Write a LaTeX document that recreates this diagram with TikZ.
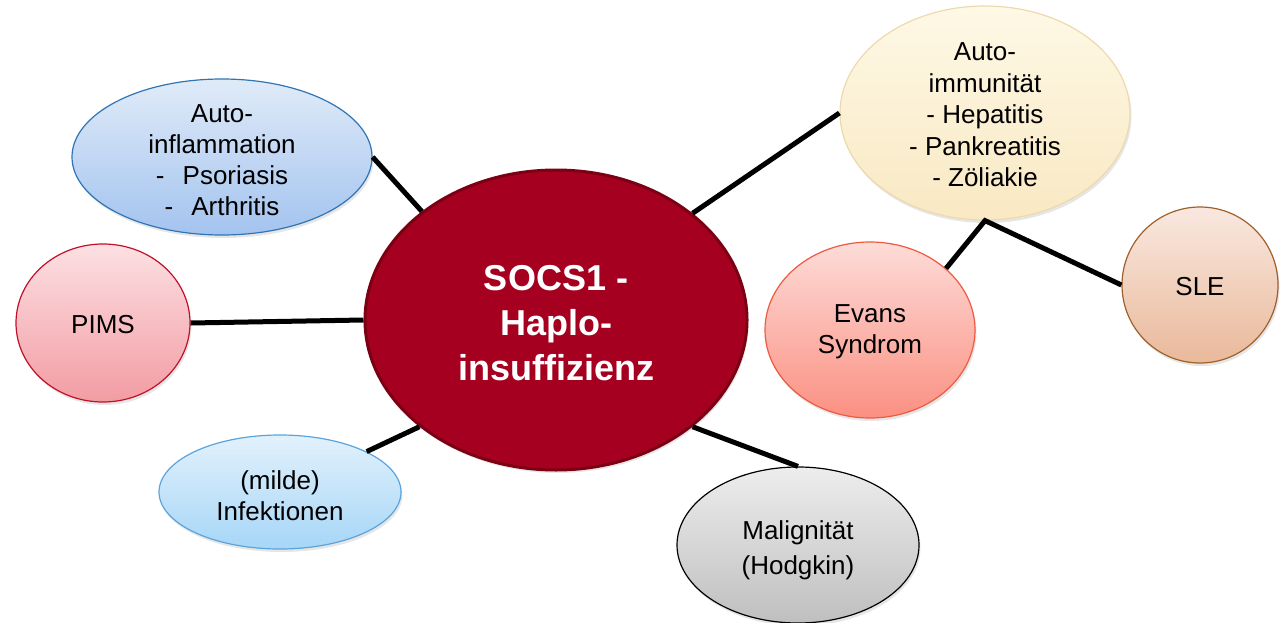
\documentclass[tikz,border=0pt]{standalone}
\usepackage{fontspec}
\setmainfont{Liberation Sans}
\usetikzlibrary{shapes.geometric,shadows}
\definecolor{cenfill}{HTML}{A5001F}
\definecolor{cenborder}{HTML}{7B0014}
\definecolor{inflborder}{HTML}{2F75B5}
\definecolor{infltop}{HTML}{E0EBF8}
\definecolor{inflbot}{HTML}{A3C3EF}
\definecolor{pimsborder}{HTML}{C0102A}
\definecolor{pimstop}{HTML}{FCE0E3}
\definecolor{pimsbot}{HTML}{F29CA3}
\definecolor{infborder}{HTML}{5BA3DC}
\definecolor{inftop}{HTML}{E2F1FC}
\definecolor{infbot}{HTML}{A6D6F7}
\definecolor{maltop}{HTML}{EDEDED}
\definecolor{malbot}{HTML}{BFBFBF}
\definecolor{evborder}{HTML}{EE5A40}
\definecolor{evtop}{HTML}{FDDCD8}
\definecolor{evbot}{HTML}{FB9082}
\definecolor{sleborder}{HTML}{A0602A}
\definecolor{sletop}{HTML}{F9E8E0}
\definecolor{slebot}{HTML}{E9B99A}
\definecolor{imborder}{HTML}{EED9AE}
\definecolor{imtop}{HTML}{FEF8E6}
\definecolor{imbot}{HTML}{F9E9C3}
\tikzset{
  blob/.style={ellipse, inner sep=0pt, line width=1.2pt,
    drop shadow={opacity=0.2, shadow xshift=1.5pt, shadow yshift=-3pt}},
  lbl/.style={align=center, font=\fontsize{26}{31}\selectfont, text=black},
  conn/.style={line width=5pt, black},
}
\begin{document}
\begin{tikzpicture}[x=1pt,y=-1pt]
\useasboundingbox (0,0) rectangle (1281,623);
% central
\node[blob, draw=cenborder, line width=3pt, fill=cenfill, minimum width=382pt, minimum height=300pt] (cen) at (556,320) {};
\node[align=center, text=white, font=\fontsize{36}{45}\selectfont\bfseries] (cent) at (556,323) {SOCS1 -\\Haplo-\\insuffizienz};
% auto-inflammation
\node[blob, draw=inflborder, top color=infltop, bottom color=inflbot, minimum width=300pt, minimum height=156pt] (infl) at (222,157) {};
\node[lbl] (inflt) at (222,160) {Auto-\\inflammation\\-\hspace{0.7em}Psoriasis\\-\hspace{0.7em}Arthritis};
% PIMS
\node[blob, draw=pimsborder, top color=pimstop, bottom color=pimsbot, minimum width=174pt, minimum height=158pt] (pims) at (103,323) {};
\node[lbl] (pimst) at (103,325) {PIMS};
% infektionen
\node[blob, draw=infborder, top color=inftop, bottom color=infbot, minimum width=242pt, minimum height=114pt] (inf) at (280,492) {};
\node[lbl] (inft) at (280,496) {(milde)\\Infektionen};
% malignitaet
\node[blob, draw=black, top color=maltop, bottom color=malbot, minimum width=242pt, minimum height=156pt] (mal) at (798,545) {};
\node[lbl, font=\fontsize{26}{35}\selectfont] (malt) at (798,550) {Malignität\\(Hodgkin)};
% auto-immunitaet
\node[blob, draw=imborder, top color=imtop, bottom color=imbot, minimum width=290pt, minimum height=214pt] (im) at (985,113) {};
\node[lbl, font=\fontsize{26}{31.5}\selectfont] (imt) at (985,115) {Auto-\\immunität\\- Hepatitis\\- Pankreatitis\\- Zöliakie};
% evans
\node[blob, draw=evborder, top color=evtop, bottom color=evbot, minimum width=210pt, minimum height=176pt] (ev) at (870,330) {};
\node[lbl] (evt) at (870,332) {Evans\\Syndrom};
% SLE
\node[blob, draw=sleborder, top color=sletop, bottom color=slebot, minimum width=156pt, minimum height=156pt] (sle) at (1200,285) {};
\node[lbl] (slet) at (1200,287) {SLE};
% connectors
\draw[conn] (infl.east) -- (cen.141);
\draw[conn] (pims.east) -- (cen.west);
\draw[conn] (inf.25) -- (cen.218);
\draw[conn] (mal.north) -- (cen.322);
\draw[conn] (im.west) -- (cen.38);
\draw[conn, line join=miter] (ev.39) -- (im.south) -- (sle.west);
\end{tikzpicture}
\end{document}
